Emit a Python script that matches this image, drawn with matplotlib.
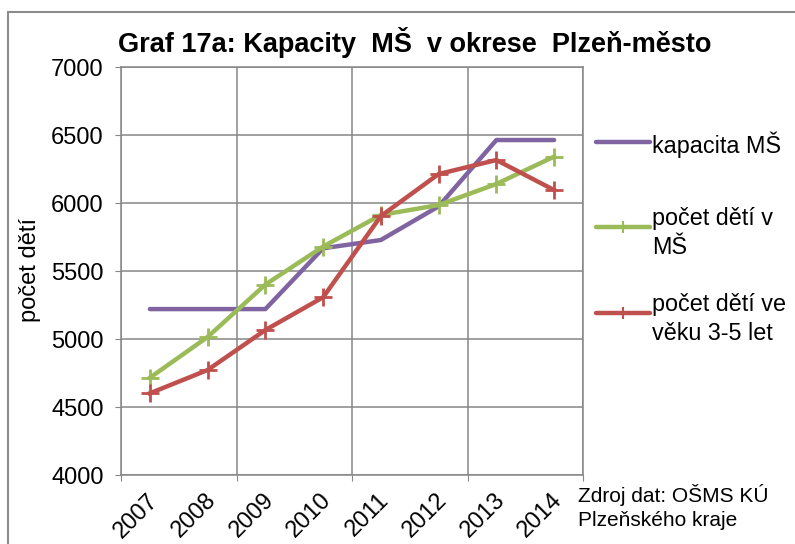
import matplotlib
matplotlib.use('Agg')
import matplotlib.pyplot as plt
import matplotlib.transforms as mtransforms
from matplotlib.lines import Line2D
from matplotlib.patches import Rectangle

years = ['2007', '2008', '2009', '2010', '2011', '2012', '2013', '2014']
kapacita = [5220, 5220, 5220, 5667, 5728, 5975, 6463, 6463]
deti_ms = [4715, 5015, 5400, 5680, 5912, 5985, 6140, 6341]
deti_3_5 = [4601, 4772, 5066, 5307, 5904, 6213, 6316, 6095]

labels = ['kapacita MŠ', 'počet dětí v\nMŠ', 'počet dětí ve\nvěku 3-5 let']
colors = ['#8064A2', '#9BBB59', '#C0504D']

plt.rcParams['font.family'] = ['Liberation Sans', 'DejaVu Sans']

W, H = 795, 544
fig = plt.figure(figsize=(W / 100, H / 100), dpi=100)
ax = fig.add_axes([121 / W, 1 - 475 / H, (583 - 121) / W, (475 - 67) / H])

x = list(range(len(years)))
ax.plot(x, kapacita, color=colors[0], lw=3.2, solid_capstyle='round', zorder=3)
ax.plot(x, deti_ms, color=colors[1], lw=3.2, marker='+', ms=13, mew=2, zorder=4)
ax.plot(x, deti_3_5, color=colors[2], lw=3.2, marker='+', ms=13, mew=2, zorder=5)

ax.set_xlim(-0.5, 7.5)
ax.set_ylim(4000, 7000)
ax.set_yticks(range(4000, 7001, 500))
ax.set_xticks([-0.5, 1.5, 3.5, 5.5, 7.5])
ax.set_xticklabels([])
ax.set_xticks(x, labels=years, minor=True)
ax.tick_params(axis='x', which='minor', length=0, pad=13)
ax.tick_params(axis='both', which='major', length=4.5, color='#868686', labelsize=17)
ax.tick_params(axis='y', pad=8)
shift = mtransforms.ScaledTranslation(5 / 100, -4 / 100, fig.dpi_scale_trans)
for lab in ax.get_xticklabels(minor=True):
    lab.set_rotation(45)
    lab.set_ha('right')
    lab.set_va('center')
    lab.set_rotation_mode('anchor')
    lab.set_fontsize(17)
    lab.set_transform(lab.get_transform() + shift)

ax.grid(True, which='major', color='#868686', lw=1.1)
for s in ax.spines.values():
    s.set_color('#868686')
    s.set_linewidth(1.1)

# outer chart border
fig.add_artist(Rectangle((8 / W, -0.1), 1.2, 1 - 12 / H + 0.1, transform=fig.transFigure,
                         fill=False, edgecolor='#8c8c8c', lw=1.5))

fig.text(415 / W, 1 - 43 / H, 'Graf 17a: Kapacity  MŠ  v okrese  Plzeň-město',
         ha='center', va='center', fontsize=19.5, fontweight='bold')
fig.text(30 / W, 1 - 270 / H, 'počet dětí', rotation=90, ha='center', va='center', fontsize=17)

# legend drawn by hand so the marks sit on the first text line
leg_y = [142, 227, 313]
for i in range(3):
    yy = 1 - leg_y[i] / H
    fig.add_artist(Line2D([596 / W, 650 / W], [yy, yy], color=colors[i], lw=3.2,
                          transform=fig.transFigure, solid_capstyle='round'))
    if i > 0:
        fig.add_artist(Line2D([623 / W], [yy], color=colors[i], marker='+', ms=8, mew=1.5,
                              transform=fig.transFigure))
    fig.text(652 / W, yy, labels[i], ha='left', va='center_baseline', fontsize=16.8,
             linespacing=1.35)

fig.text(578 / W, 1 - 503 / H, 'Zdroj dat: OŠMS KÚ\nPlzeňského kraje', ha='left',
         va='center_baseline', fontsize=15, linespacing=1.3)

fig.savefig('out.png', dpi=100)
